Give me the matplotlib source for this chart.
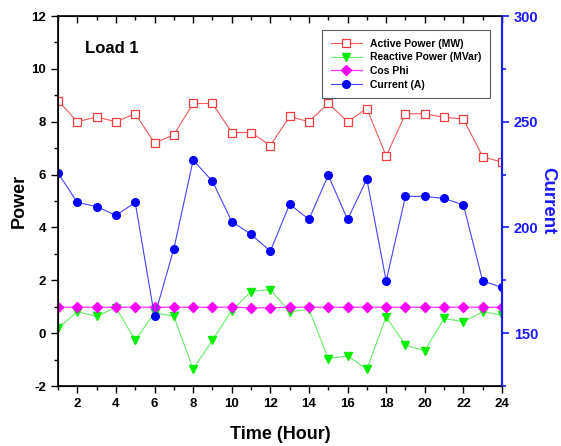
import numpy as np
import matplotlib
matplotlib.use("Agg")
import matplotlib.pyplot as plt
from matplotlib.ticker import MultipleLocator

plt.rcParams['font.family'] = ['Liberation Sans', 'DejaVu Sans']
plt.rcParams['font.weight'] = 'bold'
plt.rcParams['axes.unicode_minus'] = False

hours = list(range(1, 25))
active_power = [8.8, 8.0, 8.18, 8.0, 8.3, 7.2, 7.5, 8.69, 8.69, 7.59, 7.59, 7.1,
                8.2, 8.0, 8.7, 8.0, 8.5, 6.7, 8.3, 8.3, 8.17, 8.1, 6.68, 6.47]
reactive_power = [0.18, 0.81, 0.64, 0.97, -0.27, 0.77, 0.64, -1.36, -0.27, 0.85, 1.57, 1.65,
                  0.81, 0.9, -0.96, -0.86, -1.36, 0.62, -0.45, -0.67, 0.56, 0.43, 0.81, 0.68]
cos_phi = [0.98, 0.98, 0.98, 0.98, 0.98, 0.98, 0.98, 0.98, 0.98, 0.98, 0.96, 0.96,
           0.98, 0.98, 0.98, 0.98, 0.98, 0.98, 0.98, 0.98, 0.98, 0.98, 0.98, 0.98]
current = [225.8, 211.8, 209.9, 205.7, 211.8, 157.9, 189.9, 231.8, 221.9, 202.8, 196.7, 188.8,
           211.0, 203.8, 224.7, 203.8, 222.8, 174.7, 214.7, 214.7, 213.7, 210.7, 174.7, 171.6]

fig = plt.figure(figsize=(5.61, 4.46), dpi=100)
ax = fig.add_axes([0.1034, 0.1345, 0.7914, 0.8296])
ax2 = ax.twinx()

l1, = ax.plot(hours, active_power, '-s', color='#f05a5a', lw=0.8, ms=5.2,
              mfc='white', mec='#f03c3c', mew=0.9, label='Active Power (MW)')
l2, = ax.plot(hours, reactive_power, '-v', color='#66ee66', lw=0.8, ms=6,
              mfc='#00ee00', mec='#00ee00', label='Reactive Power (MVar)')
l3, = ax.plot(hours, cos_phi, '-D', color='#ff33ff', lw=0.9, ms=4.6,
              mfc='#ff00ff', mec='#ff00ff', label='Cos Phi')
l4, = ax2.plot(hours, current, '-o', color='#4444ff', lw=0.8, ms=5.5,
               mfc='#0000ff', mec='#0000ff', label='Current (A)')

ax.set_xlim(1, 24)
ax.set_ylim(-2, 12)
ax2.set_ylim(125, 300)

ax.xaxis.set_major_locator(MultipleLocator(2))
ax.xaxis.set_minor_locator(MultipleLocator(1))
ax.yaxis.set_major_locator(MultipleLocator(2))
ax.yaxis.set_minor_locator(MultipleLocator(1))
ax2.yaxis.set_major_locator(MultipleLocator(50))
ax2.yaxis.set_minor_locator(MultipleLocator(25))

ax.tick_params(axis='x', which='both', top=True, direction='out', labelsize=9.5)
ax.tick_params(axis='y', which='both', direction='out', labelsize=9.5)
ax.tick_params(which='major', length=5, width=1)
ax.tick_params(which='minor', length=3, width=1)
ax2.tick_params(axis='y', which='both', direction='out', colors='#1a1aff', labelsize=10.5, width=1.2)
ax2.tick_params(which='major', length=5)
ax2.tick_params(which='minor', length=3)

# top ticks point into the plot
for t in ax.xaxis.get_major_ticks() + ax.xaxis.get_minor_ticks():
    t.tick2line.set_marker(3)

for s in ['left', 'bottom', 'top']:
    ax.spines[s].set_linewidth(1.2)
ax2.spines['right'].set_color('#1a1aff')
ax2.spines['right'].set_linewidth(1.5)

ax.set_xlabel('Time (Hour)', fontsize=13, fontweight='bold', labelpad=12)
ax.set_ylabel('Power', fontsize=13, fontweight='bold', labelpad=3)
ax2.set_ylabel('Current', fontsize=13.5, fontweight='bold', color='#1a1aff',
               rotation=270, labelpad=13)

ax.text(0.06, 0.9, 'Load 1', transform=ax.transAxes, fontsize=12, fontweight='bold')

leg = ax.legend(handles=[l1, l2, l3, l4], loc='upper right',
                bbox_to_anchor=(0.985, 0.975), fontsize=7.5, frameon=True,
                fancybox=False, edgecolor='#333333', handlelength=3,
                borderpad=0.8, labelspacing=0.35)
leg.get_frame().set_linewidth(0.8)

fig.savefig('out.png', dpi=100)
